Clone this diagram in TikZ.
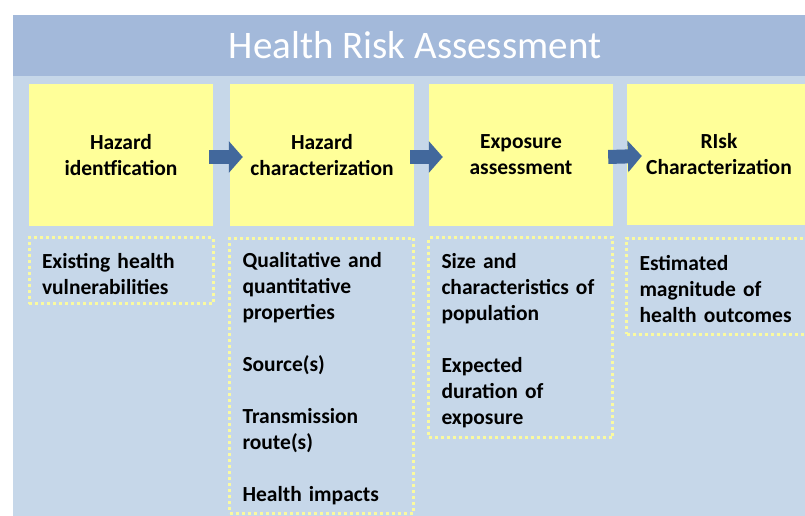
\documentclass[tikz,border=0pt]{standalone}
\usepackage{xcolor}
\usepackage{fontspec}
\setmainfont{Carlito}
\usepackage{tikz}
\usetikzlibrary{arrows.meta, positioning}
\definecolor{barblue}{RGB}{163,185,218}
\definecolor{panelblue}{RGB}{198,215,233}
\definecolor{boxyellow}{RGB}{255,255,153}
\definecolor{dotyellow}{RGB}{250,250,160}
\definecolor{flowblue}{RGB}{66,104,156}
\tikzstyle{header} = [rectangle, fill=boxyellow, minimum width=184pt, minimum height=141pt, align=center, font=\fontsize{21.5}{26}\selectfont\bfseries]
\tikzstyle{note} = [rectangle, draw=dotyellow, line width=3pt, dash pattern=on 3pt off 3pt, text width=158pt, inner xsep=13pt, inner ysep=0pt, align=left, font=\fontsize{21.5}{26}\selectfont\bfseries, execute at begin node={\rule{0pt}{22pt}}]
\tikzstyle{flow} = [line width=14pt, draw=flowblue, -{Triangle[length=14pt, width=31pt]}]

\begin{document}
\begin{tikzpicture}[x=1pt, y=-1pt]
        \useasboundingbox (0,0) rectangle (805,516);
        \clip (0,0) rectangle (805,516);
        \fill[panelblue] (13,76) rectangle (820,516);
        \fill[barblue] (13,15) rectangle (820,76);
        \node[text=white, font=\fontsize{39}{46}\selectfont] (title) at (415,45) {Health Risk Assessment};

        \node[header] (hazid) at (121,155) {Hazard\\identfication};
        \node[header] (hazchar) at (322,155) {Hazard\\characterization};
        \node[header] (expo) at (521,155) {Exposure\\assessment};
        \node[header] (riskchar) at (719,154.5) {RIsk\\Characterization};

        \node[note, minimum height=66pt] (hazidnote) at (121,270.5) {Existing health\\vulnerabilities};
        \node[note, minimum height=275pt] (hazcharnote) at (321.5,375.5) {Qualitative and\\quantitative\\properties\\[26pt]Source(s)\\[26pt]Transmission\\route(s)\\[26pt]Health impacts};
        \node[note, minimum height=200pt] (exponote) at (520.5,337.5) {Size and\\characteristics of\\population\\[26pt]Expected\\duration of\\exposure};
        \node[note, minimum height=96pt] (risknote) at (718.5,286) {Estimated\\magnitude of\\health outcomes};

        \draw[flow] ([xshift=-4pt,yshift=-2pt]hazid.east) -- ([xshift=13pt,yshift=-2pt]hazchar.west);
        \draw[flow] ([xshift=-4pt,yshift=-2pt]hazchar.east) -- ([xshift=14pt,yshift=-2pt]expo.west);
        \draw[flow] ([xshift=-5pt,yshift=-2pt]expo.east) -- ([xshift=15pt,yshift=-1.5pt]riskchar.west);
    \end{tikzpicture}
\end{document}
